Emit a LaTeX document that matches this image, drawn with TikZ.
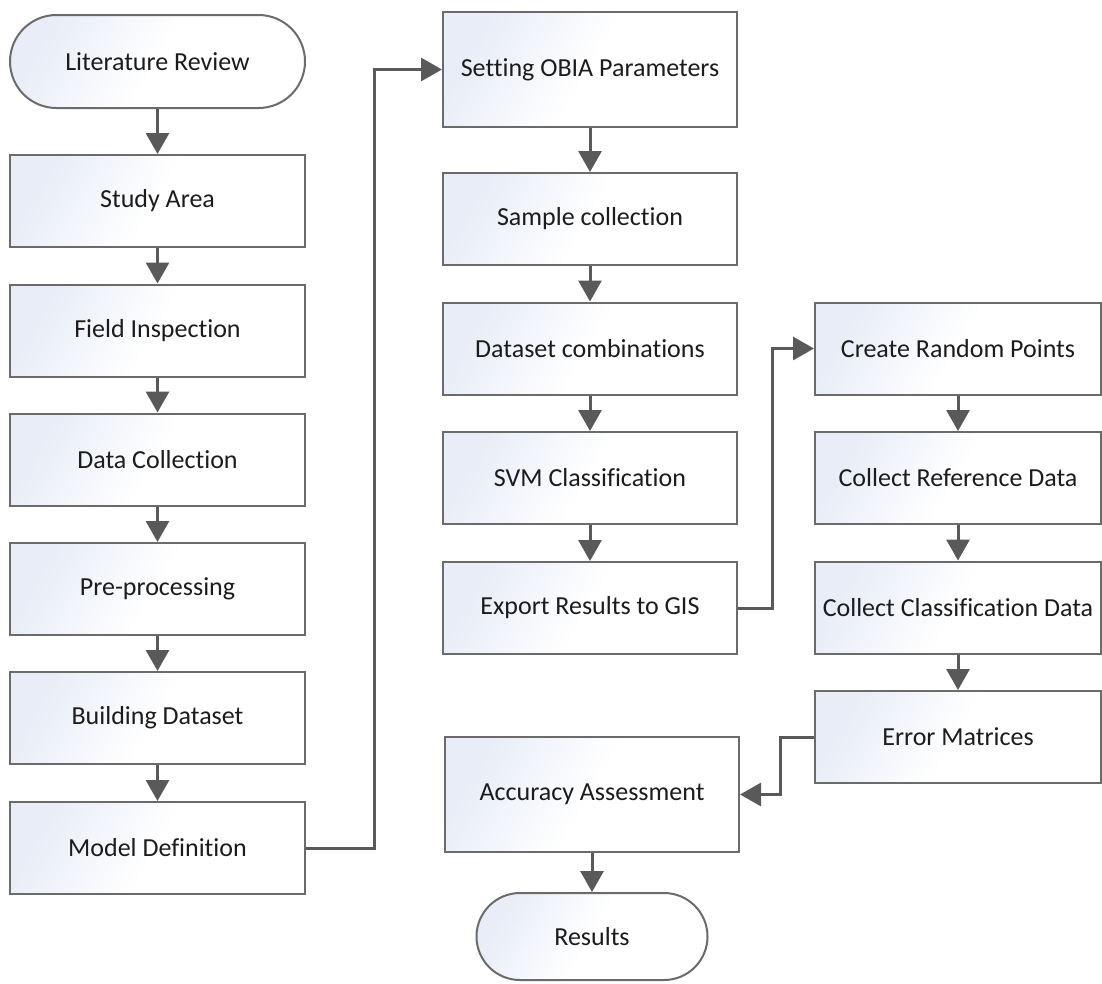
\documentclass[tikz,border=0pt]{standalone}
\usepackage{fontspec}
\setmainfont{Carlito}[Ligatures=CommonOff]
\usetikzlibrary{arrows.meta,calc}
\definecolor{edgegray}{HTML}{6B6B6B}
\definecolor{linkgray}{HTML}{595959}
\definecolor{fillblue}{HTML}{E8EDF7}
\definecolor{inkblack}{HTML}{1C1C1C}
\tikzset{
  flowbox/.style={draw=edgegray, line width=2pt, rectangle,
    left color=fillblue, right color=white, middle color=white,
    shading angle=60,
    text=inkblack, font=\fontsize{26}{30}\selectfont,
    inner sep=0pt, minimum height=92pt},
  tallbox/.style={flowbox, minimum height=115pt},
  col1/.style={minimum width=295pt},
  col2/.style={minimum width=294pt},
  col3/.style={minimum width=286pt},
  terminal/.style={flowbox, rounded corners=#1},
  link/.style={draw=linkgray, line width=3pt,
    -{Triangle[length=21pt,width=23pt]}}
}
\begin{document}
\begin{tikzpicture}[x=1pt,y=-1pt]
\useasboundingbox (0,0) rectangle (1102,983);

% first column
\node[terminal=46.5pt, col1, minimum height=93pt] (lit) at (157.5,61.5) {Literature Review};
\node[flowbox, col1] (study) at (157.5,201) {Study Area};
\node[flowbox, col1] (field) at (157.5,330.5) {Field Inspection};
\node[flowbox, col1] (data)  at (157.5,459.5) {Data Collection};
\node[flowbox, col1] (pre)   at (157.5,589) {Pre-processing};
\node[flowbox, col1] (build) at (157.5,718) {Building Dataset};
\node[flowbox, col1] (model) at (157.5,848) {Model Definition};

% second column
\node[tallbox, col2] (obia)   at (590,69.5) {Setting OBIA Parameters};
\node[flowbox, col2] (sample) at (590,219) {Sample collection};
\node[flowbox, col2] (combo)  at (590,348.5) {Dataset combinations};
\node[flowbox, col2] (svm)    at (590,478) {SVM Classification};
\node[flowbox, col2] (export) at (590,608) {Export Results to GIS};
\node[tallbox, col2] (acc)    at (592,794.5) {Accuracy Assessment};
\node[terminal=43.5pt, minimum width=231pt, minimum height=87pt] (res) at (592,936.5) {Results};

% third column
\node[flowbox, col3] (random) at (958,348.5) {Create Random Points};
\node[flowbox, col3] (ref)    at (958,478) {Collect Reference Data};
\node[flowbox, col3] (cls)    at (958,607.5) {Collect Classification Data};
\node[flowbox, col3] (err)    at (958,737) {Error Matrices};

% bends of the elbow connectors
\coordinate (bendA) at (374,848);
\coordinate (bendB) at (772,608);
\coordinate (bendC) at (780,737);

% straight links
\draw[link] (lit) -- (study);
\draw[link] (study) -- (field);
\draw[link] (field) -- (data);
\draw[link] (data) -- (pre);
\draw[link] (pre) -- (build);
\draw[link] (build) -- (model);

\draw[link] (obia) -- (sample);
\draw[link] (sample) -- (combo);
\draw[link] (combo) -- (svm);
\draw[link] (svm) -- (export);
\draw[link] (acc) -- (res);

\draw[link] (random) -- (ref);
\draw[link] (ref) -- (cls);
\draw[link] (cls) -- (err);

% elbow links between columns
\draw[link] (model.east) -- (bendA) |- (obia.west);
\draw[link] (export.east) -- (bendB) |- (random.west);
\draw[link] (err.west) -- (bendC) |- (acc.east);
\end{tikzpicture}
\end{document}
